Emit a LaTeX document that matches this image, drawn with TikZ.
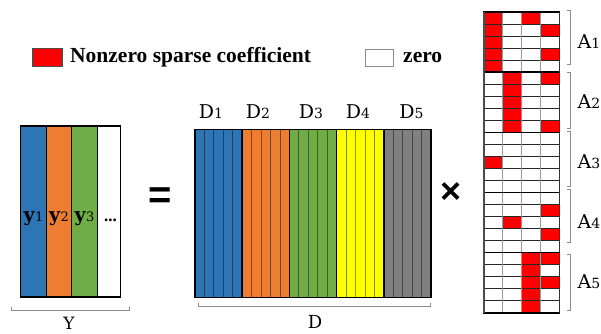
\documentclass[tikz,border=0pt]{standalone}
\usepackage{fontspec}
\setmainfont{Liberation Serif}
\newfontfamily\symfont{Liberation Sans}
\newfontfamily\lblfont{DejaVu Serif}
\definecolor{cblue}{HTML}{2E75B6}
\definecolor{corange}{HTML}{ED7D31}
\definecolor{cgreen}{HTML}{70AD47}
\definecolor{cyellow}{HTML}{FFFF00}
\definecolor{cgray}{HTML}{808080}
\definecolor{cred}{HTML}{FF0000}
\newcommand{\subn}[1]{{\fontsize{14}{14}\selectfont #1}}
\begin{document}
\begin{tikzpicture}[x=1pt,y=-1pt,
  lbl/.style={inner sep=0pt, anchor=base, font=\lblfont\fontsize{19}{20}\selectfont},
  ylbl/.style={inner sep=0pt, anchor=base, font=\lblfont\fontsize{19}{20}\selectfont},
  legtext/.style={inner sep=0pt, anchor=base west, font=\bfseries\fontsize{21.5}{22}\selectfont},
  brk/.style={black!45, line width=0.8},
  cellred/.style={fill=cred}
]
\useasboundingbox (0,0) rectangle (601,333);
\fill[white] (0,0) rectangle (601,333);

% legend
\draw[black!70, fill=cred, line width=0.6] (32,48) rectangle (62,66);
\node[legtext] (lgnz) at (70,62) {Nonzero sparse coefficient};
\draw[black!45, line width=0.8] (365,49) rectangle (393,66);
\node[legtext] (lgz) at (403,62) {zero};

% Y block
\fill[cblue] (20.7,126) rectangle (46.3,297);
\fill[corange] (46.3,126) rectangle (71.7,297);
\fill[cgreen] (71.7,126) rectangle (97.3,297);
\foreach \xx in {46.3,71.7,97.3} \draw[line width=1] (\xx,126) -- (\xx,297);
\draw[line width=1.3] (20.7,126) rectangle (120.7,297);
\node[ylbl] (y1) at (33.5,221) {\textbf{y}{\fontsize{13}{13}\selectfont 1}};
\node[ylbl] (y2) at (59,221) {\textbf{y}{\fontsize{13}{13}\selectfont 2}};
\node[ylbl] (y3) at (84.5,221) {\textbf{y}{\fontsize{13}{13}\selectfont 3}};
\node[inner sep=0pt, anchor=base, font=\bfseries\fontsize{17}{17}\selectfont] (ydots) at (110.5,221) {...};
\draw[brk] (11,307) -- (11,310) -- (129,310) -- (129,307);
\node[lbl, font=\lblfont\fontsize{17}{18}\selectfont] (ylab) at (69,329) {Y};

% equals
\node[inner sep=0pt, font=\symfont\bfseries\fontsize{40}{40}\selectfont] (eq) at (160,198) {=};

% D block
\foreach \col [count=\i from 0] in {cblue,corange,cgreen,cyellow,cgray} {
  \fill[\col] (195+\i*47.2,129.3) rectangle ++(47.2,168);
  \foreach \j in {1,...,4}
    \draw[\col!55!black, line width=0.8] (195+\i*47.2+\j*9.44,129.3) -- ++(0,168);
}
\foreach \i in {1,...,4} \draw[line width=1.5] (195+\i*47.2,129.3) -- ++(0,168);
\draw[line width=1.6] (195,129.3) rectangle (431,297.3);
\node[lbl] (d1) at (211,118.5) {D\subn{1}};
\node[lbl] (d2) at (258,118.5) {D\subn{2}};
\node[lbl] (d3) at (311,118.5) {D\subn{3}};
\node[lbl] (d4) at (358,118.5) {D\subn{4}};
\node[lbl] (d5) at (411.5,118.5) {D\subn{5}};
\draw[brk] (198,303) -- (198,306) -- (430,306) -- (430,303);
\node[lbl, font=\lblfont\fontsize{18}{18}\selectfont] (dlab) at (315,328.5) {D};

% times
\node[inner sep=0pt, font=\symfont\bfseries\fontsize{36}{36}\selectfont] (times) at (451,193) {×};

% A matrix
\def\ax{484}\def\cw{18.83}\def\ay{12}\def\rh{12.03}
\foreach \cc/\rr in {1/1,3/1,1/2,4/2,1/3,1/4,4/4,1/5,
                     2/6,4/6,2/7,2/8,2/9,2/10,4/10,
                     1/13,
                     4/17,2/18,4/19,
                     3/21,4/21,3/22,3/23,4/23,3/24,3/25}
  \fill[cellred] (\ax+\cc*\cw-\cw,\ay+\rr*\rh-\rh) rectangle ++(\cw,\rh);
\foreach \r in {1,...,24} \draw[black!85, line width=0.7] (\ax,\ay+\r*\rh) -- ++(4*\cw,0);
\foreach \c in {1,2,3} \draw[black!40, line width=1] (\ax+\c*\cw,\ay) -- ++(0,25*\rh);
\foreach \g in {0,1,...,5} \draw[black, line width=1.5] (\ax-0.7,\ay+\g*5*\rh) -- ++(4*\cw+1.4,0);
\draw[black!70, line width=1.4] (\ax,\ay) -- ++(0,25*\rh);
\draw[black!80, line width=1.4] (\ax+4*\cw,\ay) -- ++(0,25*\rh);

% brackets for A
\foreach \ya/\yb in {10/64,72/128,131/186,189/242,254/310}
  \draw[brk] (567,\ya) -- (570,\ya) -- (570,\yb) -- (567,\yb);
\node[lbl] (a1) at (589,48) {A\subn{1}};
\node[lbl] (a2) at (589,108) {A\subn{2}};
\node[lbl] (a3) at (589,168) {A\subn{3}};
\node[lbl] (a4) at (589,228) {A\subn{4}};
\node[lbl] (a5) at (589,288) {A\subn{5}};
\end{tikzpicture}
\end{document}
